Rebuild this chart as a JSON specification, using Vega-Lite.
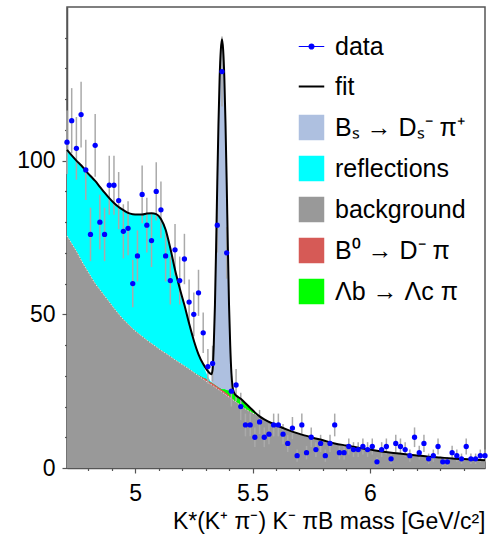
{
  "$schema": "https://vega.github.io/schema/vega-lite/v6.json",
  "width": 418,
  "height": 461,
  "autosize": {"type": "none"},
  "padding": {"left": 67, "top": 7, "right": 8, "bottom": 74},
  "background": "white",
  "config": {
    "view": {"stroke": "#555555", "strokeWidth": 1.5},
    "font": "Liberation Sans",
    "axis": {"labelFont": "Liberation Sans", "titleFont": "Liberation Sans", "labelColor": "#000000", "titleColor": "#000000", "domainColor": "#555555", "tickColor": "#555555", "grid": false, "zindex": 1}
  },
  "datasets": {
    "pts": [
      {"x": 4.71, "n": 106, "lo": 95.7, "hi": 116.3},
      {"x": 4.73, "n": 113, "lo": 102.4, "hi": 123.6},
      {"x": 4.75, "n": 104, "lo": 93.8, "hi": 114.2},
      {"x": 4.77, "n": 115, "lo": 104.3, "hi": 125.7},
      {"x": 4.79, "n": 97, "lo": 87.2, "hi": 106.8},
      {"x": 4.81, "n": 76, "lo": 67.3, "hi": 84.7},
      {"x": 4.83, "n": 105, "lo": 94.8, "hi": 115.2},
      {"x": 4.85, "n": 80, "lo": 71.1, "hi": 88.9},
      {"x": 4.87, "n": 76, "lo": 67.3, "hi": 84.7},
      {"x": 4.89, "n": 92, "lo": 82.4, "hi": 101.6},
      {"x": 4.91, "n": 92, "lo": 82.4, "hi": 101.6},
      {"x": 4.93, "n": 87, "lo": 77.7, "hi": 96.3},
      {"x": 4.95, "n": 77, "lo": 68.2, "hi": 85.8},
      {"x": 4.97, "n": 78, "lo": 69.2, "hi": 86.8},
      {"x": 4.99, "n": 60, "lo": 52.3, "hi": 67.7},
      {"x": 5.01, "n": 69, "lo": 60.7, "hi": 77.3},
      {"x": 5.03, "n": 89, "lo": 79.6, "hi": 98.4},
      {"x": 5.05, "n": 79, "lo": 70.1, "hi": 87.9},
      {"x": 5.07, "n": 74, "lo": 65.4, "hi": 82.6},
      {"x": 5.09, "n": 90, "lo": 80.5, "hi": 99.5},
      {"x": 5.11, "n": 84, "lo": 74.8, "hi": 93.2},
      {"x": 5.13, "n": 69, "lo": 60.7, "hi": 77.3},
      {"x": 5.15, "n": 61, "lo": 53.2, "hi": 68.8},
      {"x": 5.17, "n": 71, "lo": 62.6, "hi": 79.4},
      {"x": 5.19, "n": 61, "lo": 53.2, "hi": 68.8},
      {"x": 5.21, "n": 68, "lo": 59.8, "hi": 76.2},
      {"x": 5.23, "n": 54, "lo": 46.7, "hi": 61.3},
      {"x": 5.25, "n": 50, "lo": 42.9, "hi": 57.1},
      {"x": 5.27, "n": 57, "lo": 49.5, "hi": 64.5},
      {"x": 5.29, "n": 44, "lo": 37.4, "hi": 50.6},
      {"x": 5.31, "n": 33, "lo": 27.3, "hi": 38.7},
      {"x": 5.33, "n": 34, "lo": 28.2, "hi": 39.8},
      {"x": 5.35, "n": 79, "lo": 70.1, "hi": 87.9},
      {"x": 5.37, "n": 129, "lo": 117.6, "hi": 140.4},
      {"x": 5.39, "n": 70, "lo": 61.6, "hi": 78.4},
      {"x": 5.41, "n": 25, "lo": 20, "hi": 30},
      {"x": 5.43, "n": 27, "lo": 21.8, "hi": 32.2},
      {"x": 5.45, "n": 20, "lo": 15.5, "hi": 24.5},
      {"x": 5.47, "n": 14, "lo": 10.3, "hi": 17.7},
      {"x": 5.49, "n": 14, "lo": 10.3, "hi": 17.7},
      {"x": 5.51, "n": 10, "lo": 6.8, "hi": 13.2},
      {"x": 5.53, "n": 15, "lo": 11.1, "hi": 18.9},
      {"x": 5.55, "n": 10, "lo": 6.8, "hi": 13.2},
      {"x": 5.57, "n": 11, "lo": 7.7, "hi": 14.3},
      {"x": 5.59, "n": 14, "lo": 10.3, "hi": 17.7},
      {"x": 5.61, "n": 14, "lo": 10.3, "hi": 17.7},
      {"x": 5.63, "n": 11, "lo": 7.7, "hi": 14.3},
      {"x": 5.65, "n": 8, "lo": 5.2, "hi": 10.8},
      {"x": 5.67, "n": 13, "lo": 9.4, "hi": 16.6},
      {"x": 5.69, "n": 4, "lo": 2, "hi": 6},
      {"x": 5.71, "n": 14, "lo": 10.3, "hi": 17.7},
      {"x": 5.73, "n": 5, "lo": 2.8, "hi": 7.2},
      {"x": 5.75, "n": 10, "lo": 6.8, "hi": 13.2},
      {"x": 5.77, "n": 6, "lo": 3.6, "hi": 8.4},
      {"x": 5.79, "n": 8, "lo": 5.2, "hi": 10.8},
      {"x": 5.81, "n": 4, "lo": 2, "hi": 6},
      {"x": 5.83, "n": 8, "lo": 5.2, "hi": 10.8},
      {"x": 5.85, "n": 14, "lo": 10.3, "hi": 17.7},
      {"x": 5.87, "n": 5, "lo": 2.8, "hi": 7.2},
      {"x": 5.89, "n": 5, "lo": 2.8, "hi": 7.2},
      {"x": 5.91, "n": 7, "lo": 4.4, "hi": 9.6},
      {"x": 5.93, "n": 6, "lo": 3.6, "hi": 8.4},
      {"x": 5.95, "n": 6, "lo": 3.6, "hi": 8.4},
      {"x": 5.97, "n": 7, "lo": 4.4, "hi": 9.6},
      {"x": 5.99, "n": 6, "lo": 3.6, "hi": 8.4},
      {"x": 6.01, "n": 7, "lo": 4.4, "hi": 9.6},
      {"x": 6.03, "n": 2, "lo": 0.6, "hi": 3.4},
      {"x": 6.05, "n": 6, "lo": 3.6, "hi": 8.4},
      {"x": 6.07, "n": 7, "lo": 4.4, "hi": 9.6},
      {"x": 6.09, "n": 3, "lo": 1.3, "hi": 4.7},
      {"x": 6.11, "n": 8, "lo": 5.2, "hi": 10.8},
      {"x": 6.13, "n": 7, "lo": 4.4, "hi": 9.6},
      {"x": 6.15, "n": 6, "lo": 3.6, "hi": 8.4},
      {"x": 6.17, "n": 4, "lo": 2, "hi": 6},
      {"x": 6.19, "n": 10, "lo": 6.8, "hi": 13.2},
      {"x": 6.21, "n": 5, "lo": 2.8, "hi": 7.2},
      {"x": 6.23, "n": 8, "lo": 5.2, "hi": 10.8},
      {"x": 6.25, "n": 3, "lo": 1.3, "hi": 4.7},
      {"x": 6.27, "n": 4, "lo": 2, "hi": 6},
      {"x": 6.29, "n": 7, "lo": 4.4, "hi": 9.6},
      {"x": 6.31, "n": 2, "lo": 0.6, "hi": 3.4},
      {"x": 6.33, "n": 2, "lo": 0.6, "hi": 3.4},
      {"x": 6.35, "n": 5, "lo": 2.8, "hi": 7.2},
      {"x": 6.37, "n": 4, "lo": 2, "hi": 6},
      {"x": 6.39, "n": 3, "lo": 1.3, "hi": 4.7},
      {"x": 6.41, "n": 7, "lo": 4.4, "hi": 9.6},
      {"x": 6.43, "n": 3, "lo": 1.3, "hi": 4.7},
      {"x": 6.45, "n": 3, "lo": 1.3, "hi": 4.7},
      {"x": 6.47, "n": 4, "lo": 2, "hi": 6},
      {"x": 6.49, "n": 4, "lo": 2, "hi": 6}
    ],
    "fit": [
      {"x": 4.71, "bg": 75.5, "rd": 75.5, "gr": 75.5, "cy": 103.5, "tot": 103.5},
      {"x": 4.73, "bg": 73.0, "rd": 73.0, "gr": 73.0, "cy": 101.7, "tot": 101.7},
      {"x": 4.75, "bg": 70.5, "rd": 70.5, "gr": 70.5, "cy": 100.0, "tot": 100.0},
      {"x": 4.77, "bg": 67.7, "rd": 67.7, "gr": 67.7, "cy": 98.5, "tot": 98.5},
      {"x": 4.79, "bg": 65.0, "rd": 65.0, "gr": 65.0, "cy": 96.7, "tot": 96.7},
      {"x": 4.81, "bg": 62.5, "rd": 62.5, "gr": 62.5, "cy": 95.0, "tot": 95.0},
      {"x": 4.83, "bg": 60.0, "rd": 60.0, "gr": 60.0, "cy": 93.4, "tot": 93.4},
      {"x": 4.85, "bg": 58.0, "rd": 58.0, "gr": 58.0, "cy": 91.5, "tot": 91.5},
      {"x": 4.87, "bg": 56.0, "rd": 56.0, "gr": 56.0, "cy": 89.6, "tot": 89.6},
      {"x": 4.89, "bg": 54.0, "rd": 54.0, "gr": 54.0, "cy": 87.8, "tot": 87.8},
      {"x": 4.91, "bg": 52.0, "rd": 52.0, "gr": 52.0, "cy": 86.2, "tot": 86.2},
      {"x": 4.93, "bg": 50.1, "rd": 50.1, "gr": 50.1, "cy": 84.9, "tot": 84.9},
      {"x": 4.95, "bg": 48.3, "rd": 48.3, "gr": 48.3, "cy": 83.9, "tot": 83.9},
      {"x": 4.97, "bg": 46.8, "rd": 46.8, "gr": 46.8, "cy": 83.0, "tot": 83.0},
      {"x": 4.99, "bg": 45.3, "rd": 45.3, "gr": 45.3, "cy": 82.6, "tot": 82.6},
      {"x": 5.01, "bg": 44.0, "rd": 44.0, "gr": 44.0, "cy": 82.5, "tot": 82.5},
      {"x": 5.03, "bg": 42.8, "rd": 42.8, "gr": 42.8, "cy": 82.5, "tot": 82.5},
      {"x": 5.05, "bg": 41.6, "rd": 41.6, "gr": 41.6, "cy": 82.8, "tot": 82.8},
      {"x": 5.07, "bg": 40.5, "rd": 40.5, "gr": 40.5, "cy": 82.9, "tot": 82.9},
      {"x": 5.09, "bg": 39.4, "rd": 39.4, "gr": 39.4, "cy": 82.6, "tot": 82.6},
      {"x": 5.11, "bg": 38.3, "rd": 38.3, "gr": 38.3, "cy": 81.0, "tot": 81.0},
      {"x": 5.13, "bg": 37.3, "rd": 37.3, "gr": 37.3, "cy": 77.5, "tot": 77.5},
      {"x": 5.15, "bg": 36.3, "rd": 36.3, "gr": 36.3, "cy": 71.5, "tot": 71.5},
      {"x": 5.17, "bg": 35.2, "rd": 35.2, "gr": 35.2, "cy": 64.5, "tot": 64.5},
      {"x": 5.19, "bg": 34.2, "rd": 34.2, "gr": 34.2, "cy": 58.5, "tot": 58.5},
      {"x": 5.21, "bg": 33.2, "rd": 33.2, "gr": 33.2, "cy": 53.0, "tot": 53.0},
      {"x": 5.23, "bg": 32.2, "rd": 32.2, "gr": 32.2, "cy": 47.0, "tot": 47.0},
      {"x": 5.25, "bg": 31.1, "rd": 31.1, "gr": 31.1, "cy": 41.5, "tot": 41.5},
      {"x": 5.27, "bg": 30.0, "rd": 30.2, "gr": 30.2, "cy": 37.0, "tot": 37.0},
      {"x": 5.29, "bg": 28.9, "rd": 29.4, "gr": 29.4, "cy": 33.5, "tot": 33.8},
      {"x": 5.30, "bg": 28.4, "rd": 29.1, "gr": 29.1, "cy": 31.5, "tot": 32.6},
      {"x": 5.31, "bg": 27.8, "rd": 28.5, "gr": 28.5, "cy": 29.8, "tot": 31.5},
      {"x": 5.32, "bg": 27.3, "rd": 28.0, "gr": 28.0, "cy": 28.4, "tot": 30.7},
      {"x": 5.325, "bg": 27.1, "rd": 27.8, "gr": 27.8, "cy": 27.9, "tot": 30.5},
      {"x": 5.33, "bg": 26.8, "rd": 27.5, "gr": 27.5, "cy": 27.5, "tot": 32.0},
      {"x": 5.335, "bg": 26.6, "rd": 27.3, "gr": 27.3, "cy": 27.3, "tot": 40.0},
      {"x": 5.34, "bg": 26.3, "rd": 27.0, "gr": 27.0, "cy": 27.0, "tot": 53.0},
      {"x": 5.345, "bg": 26.1, "rd": 26.8, "gr": 26.8, "cy": 26.8, "tot": 72.0},
      {"x": 5.35, "bg": 25.8, "rd": 26.5, "gr": 26.5, "cy": 26.5, "tot": 93.0},
      {"x": 5.355, "bg": 25.5, "rd": 26.2, "gr": 26.2, "cy": 26.2, "tot": 112.0},
      {"x": 5.36, "bg": 25.3, "rd": 26.0, "gr": 26.0, "cy": 26.0, "tot": 127.0},
      {"x": 5.365, "bg": 25.0, "rd": 25.7, "gr": 25.8, "cy": 25.8, "tot": 136.0},
      {"x": 5.37, "bg": 24.7, "rd": 25.4, "gr": 25.7, "cy": 25.7, "tot": 139.5},
      {"x": 5.375, "bg": 24.4, "rd": 25.1, "gr": 25.6, "cy": 25.6, "tot": 136.0},
      {"x": 5.38, "bg": 24.2, "rd": 24.9, "gr": 25.6, "cy": 25.6, "tot": 127.0},
      {"x": 5.385, "bg": 23.9, "rd": 24.6, "gr": 25.5, "cy": 25.5, "tot": 112.0},
      {"x": 5.39, "bg": 23.6, "rd": 24.3, "gr": 25.4, "cy": 25.4, "tot": 93.0},
      {"x": 5.395, "bg": 23.3, "rd": 24.0, "gr": 25.3, "cy": 25.3, "tot": 72.0},
      {"x": 5.40, "bg": 23.1, "rd": 23.6, "gr": 25.1, "cy": 25.1, "tot": 53.0},
      {"x": 5.405, "bg": 22.8, "rd": 23.2, "gr": 24.9, "cy": 24.9, "tot": 40.0},
      {"x": 5.41, "bg": 22.6, "rd": 22.9, "gr": 24.7, "cy": 24.7, "tot": 31.0},
      {"x": 5.415, "bg": 22.3, "rd": 22.5, "gr": 24.4, "cy": 24.4, "tot": 26.5},
      {"x": 5.42, "bg": 22.0, "rd": 22.0, "gr": 24.0, "cy": 24.0, "tot": 24.8},
      {"x": 5.425, "bg": 21.8, "rd": 21.8, "gr": 23.8, "cy": 23.8, "tot": 24.0},
      {"x": 5.43, "bg": 21.5, "rd": 21.5, "gr": 23.6, "cy": 23.6, "tot": 23.6},
      {"x": 5.45, "bg": 20.3, "rd": 20.3, "gr": 22.5, "cy": 22.5, "tot": 22.5},
      {"x": 5.47, "bg": 19.2, "rd": 19.2, "gr": 21.1, "cy": 21.1, "tot": 21.1},
      {"x": 5.49, "bg": 18.3, "rd": 18.3, "gr": 19.6, "cy": 19.6, "tot": 19.6},
      {"x": 5.51, "bg": 17.5, "rd": 17.5, "gr": 18.1, "cy": 18.1, "tot": 18.1},
      {"x": 5.53, "bg": 16.6, "rd": 16.6, "gr": 16.8, "cy": 16.8, "tot": 16.8},
      {"x": 5.55, "bg": 15.8, "rd": 15.8, "gr": 15.8, "cy": 15.8, "tot": 15.8},
      {"x": 5.60, "bg": 14.0, "rd": 14.0, "gr": 14.0, "cy": 14.0, "tot": 14.0},
      {"x": 5.65, "bg": 12.4, "rd": 12.4, "gr": 12.4, "cy": 12.4, "tot": 12.4},
      {"x": 5.70, "bg": 11.1, "rd": 11.1, "gr": 11.1, "cy": 11.1, "tot": 11.1},
      {"x": 5.75, "bg": 10.0, "rd": 10.0, "gr": 10.0, "cy": 10.0, "tot": 10.0},
      {"x": 5.80, "bg": 9.0, "rd": 9.0, "gr": 9.0, "cy": 9.0, "tot": 9.0},
      {"x": 5.85, "bg": 8.0, "rd": 8.0, "gr": 8.0, "cy": 8.0, "tot": 8.0},
      {"x": 5.90, "bg": 7.3, "rd": 7.3, "gr": 7.3, "cy": 7.3, "tot": 7.3},
      {"x": 5.95, "bg": 6.6, "rd": 6.6, "gr": 6.6, "cy": 6.6, "tot": 6.6},
      {"x": 6.00, "bg": 6.0, "rd": 6.0, "gr": 6.0, "cy": 6.0, "tot": 6.0},
      {"x": 6.05, "bg": 5.4, "rd": 5.4, "gr": 5.4, "cy": 5.4, "tot": 5.4},
      {"x": 6.10, "bg": 4.9, "rd": 4.9, "gr": 4.9, "cy": 4.9, "tot": 4.9},
      {"x": 6.15, "bg": 4.5, "rd": 4.5, "gr": 4.5, "cy": 4.5, "tot": 4.5},
      {"x": 6.20, "bg": 4.1, "rd": 4.1, "gr": 4.1, "cy": 4.1, "tot": 4.1},
      {"x": 6.25, "bg": 3.7, "rd": 3.7, "gr": 3.7, "cy": 3.7, "tot": 3.7},
      {"x": 6.30, "bg": 3.4, "rd": 3.4, "gr": 3.4, "cy": 3.4, "tot": 3.4},
      {"x": 6.35, "bg": 3.1, "rd": 3.1, "gr": 3.1, "cy": 3.1, "tot": 3.1},
      {"x": 6.40, "bg": 2.9, "rd": 2.9, "gr": 2.9, "cy": 2.9, "tot": 2.9},
      {"x": 6.45, "bg": 2.7, "rd": 2.7, "gr": 2.7, "cy": 2.7, "tot": 2.7},
      {"x": 6.49, "bg": 2.5, "rd": 2.5, "gr": 2.5, "cy": 2.5, "tot": 2.5}
    ]
  },
  "resolve": {"axis": {"x": "independent", "y": "independent"}},
  "layer": [
    {
      "data": {"name": "fit"},
      "transform": [{"filter": {"field": "x", "range": [5.324, 5.426]}}],
      "mark": {"type": "area", "interpolate": "monotone", "opacity": 1},
      "encoding": {
        "x": {"field": "x", "type": "quantitative", "scale": {"domain": [4.71, 6.49], "nice": false, "zero": false}, "axis": null},
        "y": {"field": "tot", "type": "quantitative", "stack": null, "scale": {"domain": [0, 150], "nice": false}, "axis": null},
        "color": {
          "datum": "Bₛ → Dₛ⁻ π⁺",
          "type": "nominal",
          "scale": {
            "domain": ["data", "fit", "Bₛ → Dₛ⁻ π⁺", "reflections", "background", "B⁰ → D⁻ π", "Λb → Λc π"],
            "range": ["#0000ff", "#000000", "#aec0e0", "#00ffff", "#999999", "#d65a56", "#00ff00"]
          },
          "legend": {
            "orient": "none",
            "legendX": 232,
            "legendY": 27,
            "title": null,
            "padding": 0,
            "symbolSize": 650,
            "labelFontSize": 25,
            "labelFont": "Liberation Sans",
            "labelColor": "#000000",
            "labelLimit": 400,
            "rowPadding": 14,
            "labelOffset": 11,
            "symbolStrokeWidth": 0,
            "symbolOpacity": 1,
            "encode": {
              "symbols": {
                "update": {
                  "shape": {"signal": "datum.value === 'data' ? 'M-1,0H1M-0.19,0A0.19,0.19,0,1,1,0.19,0A0.19,0.19,0,1,1,-0.19,0Z' : datum.value === 'fit' ? 'stroke' : 'square'"},
                  "fill": {"signal": "scale('color', datum.value)"},
                  "stroke": {"signal": "scale('color', datum.value)"},
                  "strokeWidth": {"signal": "datum.value === 'fit' ? 2 : datum.value === 'data' ? 1.2 : 0"},
                  "opacity": {"value": 1}
                }
              }
            }
          }
        }
      }
    },
    {
      "data": {"name": "fit"},
      "mark": {"type": "area", "interpolate": "monotone", "opacity": 1},
      "encoding": {
        "x": {"field": "x", "type": "quantitative", "scale": {"domain": [4.71, 6.49], "nice": false, "zero": false}, "axis": null},
        "y": {"field": "cy", "type": "quantitative", "stack": null, "scale": {"domain": [0, 150], "nice": false}, "axis": null},
        "color": {"datum": "reflections", "type": "nominal"}
      }
    },
    {
      "data": {"name": "fit"},
      "mark": {"type": "area", "interpolate": "monotone", "opacity": 1},
      "encoding": {
        "x": {"field": "x", "type": "quantitative", "scale": {"domain": [4.71, 6.49], "nice": false, "zero": false}, "axis": null},
        "y": {"field": "gr", "type": "quantitative", "stack": null, "scale": {"domain": [0, 150], "nice": false}, "axis": null},
        "color": {"datum": "Λb → Λc π", "type": "nominal"}
      }
    },
    {
      "data": {"name": "fit"},
      "mark": {"type": "area", "interpolate": "monotone", "opacity": 1},
      "encoding": {
        "x": {"field": "x", "type": "quantitative", "scale": {"domain": [4.71, 6.49], "nice": false, "zero": false}, "axis": null},
        "y": {"field": "rd", "type": "quantitative", "stack": null, "scale": {"domain": [0, 150], "nice": false}, "axis": null},
        "color": {"datum": "B⁰ → D⁻ π", "type": "nominal"}
      }
    },
    {
      "data": {"name": "fit"},
      "mark": {"type": "area", "interpolate": "monotone", "opacity": 1},
      "encoding": {
        "x": {
          "field": "x", "type": "quantitative",
          "scale": {"domain": [4.71, 6.49], "nice": false, "zero": false},
          "axis": {
            "orient": "bottom",
            "values": [5, 5.5, 6],
            "format": "~g",
            "tickSize": 5,
            "tickWidth": 1.2,
            "domainWidth": 1.5,
            "labelFontSize": 23,
            "labelBaseline": "alphabetic",
            "labelPadding": 27,
            "labelFlush": false,
            "labelOverlap": false,
            "title": "K*(K⁺ π⁻) K⁻ πB mass [GeV/c²]",
            "titleFontSize": 23,
            "titleFontWeight": "normal",
            "titleAnchor": "end",
            "titleAlign": "right",
            "titleBaseline": "alphabetic",
            "titleY": 60
          }
        },
        "y": {
          "field": "bg", "type": "quantitative", "stack": null,
          "scale": {"domain": [0, 150], "nice": false},
          "axis": {
            "orient": "left",
            "values": [0, 50, 100],
            "tickSize": 5,
            "tickWidth": 1.2,
            "domainWidth": 1.5,
            "labelFontSize": 23,
            "labelPadding": 7,
            "labelFlush": false,
            "labelOverlap": false,
            "title": null
          }
        },
        "color": {"datum": "background", "type": "nominal"}
      }
    },
    {
      "data": {"name": "fit"},
      "mark": {"type": "line", "interpolate": "monotone", "stroke": "#e4e4e4", "strokeWidth": 1, "strokeDash": [1.5, 1.5]},
      "encoding": {
        "x": {"field": "x", "type": "quantitative", "scale": {"domain": [4.71, 6.49], "nice": false, "zero": false}, "axis": null},
        "y": {"field": "bg", "type": "quantitative", "scale": {"domain": [0, 150], "nice": false}, "axis": null}
      }
    },
    {
      "data": {"name": "pts"},
      "mark": {"type": "rule", "color": "#aaaaaa", "strokeWidth": 1.5},
      "encoding": {
        "x": {"field": "x", "type": "quantitative", "scale": {"domain": [4.71, 6.49], "nice": false, "zero": false}, "axis": null},
        "y": {"field": "lo", "type": "quantitative", "scale": {"domain": [0, 150], "nice": false}, "axis": null},
        "y2": {"field": "hi"}
      }
    },
    {
      "data": {"name": "fit"},
      "mark": {"type": "line", "interpolate": "monotone", "strokeWidth": 2},
      "encoding": {
        "x": {"field": "x", "type": "quantitative", "scale": {"domain": [4.71, 6.49], "nice": false, "zero": false}, "axis": null},
        "y": {"field": "tot", "type": "quantitative", "scale": {"domain": [0, 150], "nice": false}, "axis": null},
        "color": {"datum": "fit", "type": "nominal"}
      }
    },
    {
      "data": {"name": "pts"},
      "mark": {"type": "circle", "size": 28, "opacity": 1},
      "encoding": {
        "x": {
          "field": "x", "type": "quantitative",
          "scale": {"domain": [4.71, 6.49], "nice": false, "zero": false},
          "axis": {
            "orient": "bottom",
            "values": [4.8, 4.9, 5.1, 5.2, 5.3, 5.4, 5.6, 5.7, 5.8, 5.9, 6.1, 6.2, 6.3, 6.4],
            "tickSize": 2.5,
            "tickWidth": 1.2,
            "domain": false,
            "labels": false,
            "title": null
          }
        },
        "y": {
          "field": "n", "type": "quantitative",
          "scale": {"domain": [0, 150], "nice": false},
          "axis": {
            "orient": "left",
            "values": [10, 20, 30, 40, 60, 70, 80, 90, 110, 120, 130, 140],
            "tickSize": 2.5,
            "tickWidth": 1.2,
            "domain": false,
            "labels": false,
            "title": null
          }
        },
        "color": {"datum": "data", "type": "nominal"}
      }
    }
  ]
}
